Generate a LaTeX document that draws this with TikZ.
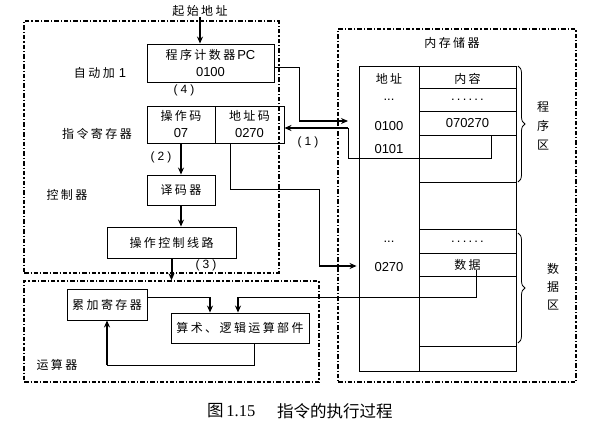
\documentclass[tikz,border=0pt]{standalone}
\usepackage{fontspec}
\newfontfamily\cjk[LetterSpace=20]{Noto Sans CJK SC}
\newfontfamily\capcjk{Noto Sans CJK SC}
\newfontfamily\capserif{Liberation Serif}
\newfontfamily\lat{Liberation Sans}
\newcommand\dg[1]{{\lat\fontsize{13}{17}\selectfont #1}}
\newcommand\pn[1]{{\lat\fontsize{12}{14}\selectfont (\hspace{3pt}#1\hspace{3pt})}}
\newcommand\sixdots{{\lat\fontsize{13}{17}\selectfont .\hspace{2.2pt}.\hspace{2.2pt}.\hspace{2.2pt}.\hspace{2.2pt}.\hspace{2.2pt}.}}
\usetikzlibrary{arrows.meta,decorations.pathreplacing}
\begin{document}
\begin{tikzpicture}[x=1pt,y=-1pt,
  every node/.style={font=\cjk\fontsize{12}{17}\selectfont, inner sep=0pt, align=center},
  bx/.style 2 args={draw, line width=0.9pt, minimum width=#1pt, minimum height=#2pt},
  frame/.style={draw, line width=1.4pt, dash pattern=on 4.5pt off 2pt on 1.2pt off 2pt},
  tl/.style={line width=0.8pt},
  thk/.style={line width=2pt, -{Stealth[length=7pt,width=6pt]}},
  brc/.style={decorate, decoration={brace, amplitude=7pt}, line width=0.8pt}
]
\useasboundingbox (0,0) rectangle (590,423);
% frames
\node[frame, minimum width=255pt, minimum height=252pt] (ctrl) at (151.5,147) {};
\node[frame, minimum width=295pt, minimum height=101pt] (alub) at (171.5,331.5) {};
\node[frame, minimum width=238pt, minimum height=353pt] (memb) at (457,205.5) {};
% controller
\node (start) at (200,11) {起始地址};
\node[bx={127}{38}] (pc) at (210.5,63) {程序计数器\,\dg{PC}\\\dg{0100}};
\node[bx={68}{37}] (op) at (181,124.5) {操作码\\\dg{07}};
\node[bx={69}{37}] (ad) at (249.5,124.5) {地址码\\\dg{0270}};
\node[bx={68}{30}] (dec) at (181,190) {译码器};
\node[bx={129}{31}] (oc) at (171.5,242.5) {操作控制线路};
\node (l1) at (100,73) {自动加\hspace{4pt}\dg{1}};
\node (l2) at (97,134) {指令寄存器};
\node (l3) at (67,195) {控制器};
\node (p4) at (184,90) {\pn{4}};
\node (p2) at (161,157) {\pn{2}};
\node (p3) at (206,265) {\pn{3}};
\node (p1) at (308,142) {\pn{1}};
% ALU
\node[bx={80}{31}] (acc) at (107,304.5) {累加寄存器};
\node[bx={138}{30}] (alu) at (240,328) {算术、逻辑运算部件};
\node (l4) at (57,365) {运算器};
% memory
\node (l5) at (452,43) {内存储器};
\node[draw, line width=0.9pt, minimum width=157pt, minimum height=305pt] (mem) at (437.5,218.5) {};
\draw[tl] (419,66) -- (419,371);
\foreach \yy in {88,111,135,182,229,253,276,346} \draw[tl] (419,\yy) -- (516,\yy);
\node (m1) at (389,79) {地址};
\node (m2) at (389,100) {\dg{...}};
\node (m3) at (389,126) {\dg{0100}};
\node (m4) at (389,149) {\dg{0101}};
\node (m5) at (389,242) {\dg{...}};
\node (m6) at (389,267) {\dg{0270}};
\node (n1) at (467.5,79) {内容};
\node (n2) at (467.5,100) {\sixdots};
\node[minimum width=97pt, minimum height=24pt] (c0100) at (467.5,123) {\dg{070270}};
\node (n3) at (467.5,242) {\sixdots};
\node[minimum width=97pt, minimum height=23pt] (cdata) at (467.5,264.5) {数据};
\draw[brc] (518,66) -- (518,182);
\draw[brc] (518,233) -- (518,343);
\node[font=\cjk\fontsize{12}{19}\selectfont] (z1) at (543,126) {程\\序\\区};
\node[font=\cjk\fontsize{12}{18}\selectfont] (z2) at (553,287) {数\\据\\区};
% connectors
\coordinate (pa) at (299,121);
\coordinate (pb) at (348,121);
\draw[tl] ([yshift=-4pt]pc.east) -| (pa);
\draw[thk] (pa) -- (pb);
\coordinate (qb) at (348,128);
\draw[tl] ([xshift=23.5pt]c0100.south) |- (348,158) -- (qb);
\draw[thk] (qb) -- (qb -| ad.east);
\coordinate (c1) at (319,266);
\draw[tl] ([xshift=-19.5pt]ad.south) |- (319,189) -- (c1);
\draw[thk] (c1) -- ([xshift=-2pt]c1 -| mem.west);
\coordinate (d1) at (238,297);
\draw[tl] ([xshift=8.5pt,yshift=-5.5pt]cdata.center) |- (d1);
\draw[thk] (d1) -- (d1 |- alu.north);
\coordinate (e1) at (210,297);
\draw[tl] ([yshift=7.5pt]acc.east) -- (e1);
\draw[thk] (e1) -- (e1 |- alu.north);
\coordinate (f1) at (107,365);
\draw[tl] ([xshift=14pt]alu.south) |- (f1);
\draw[thk] (f1) -- (acc.south);
\draw[thk] (start.south) -- (start.south |- pc.north);
\draw[thk] (op.south) -- (dec.north);
\draw[thk] (dec.south) -- (dec.south |- oc.north);
\draw[thk] (oc.south) -- (oc.south |- alub.north);
% caption
\node[anchor=west, font=\capcjk\fontsize{16.5}{18}\selectfont] (cap1) at (207,411) {图\,{\capserif 1.15}};
\node[anchor=west, font=\capcjk\fontsize{16.5}{18}\selectfont] (cap2) at (277,411) {指令的执行过程};
\end{tikzpicture}
\end{document}
